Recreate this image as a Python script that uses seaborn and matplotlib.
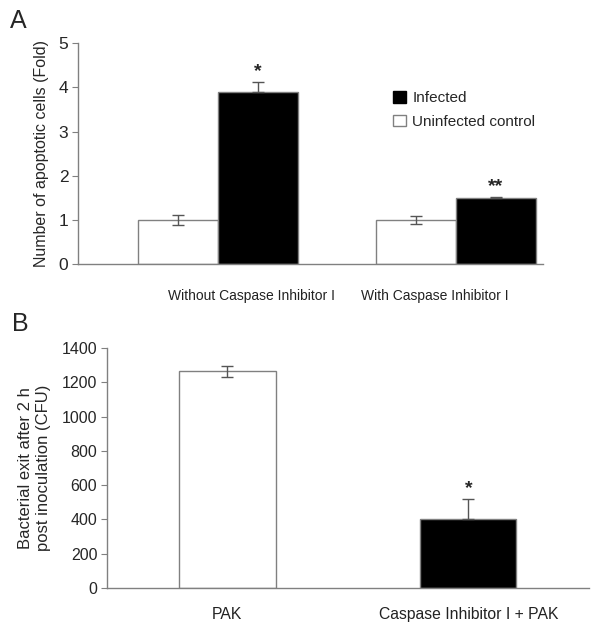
import numpy as np
import pandas as pd
import matplotlib
matplotlib.use("Agg")
import matplotlib.pyplot as plt
import seaborn as sns
from matplotlib.patches import Patch

sns.set_style("white")
plt.rcParams['font.family'] = ['Liberation Sans', 'DejaVu Sans']

# Panel A data
conditions_a = ["Without Caspase Inhibitor I", "With Caspase Inhibitor I"]
groups_a = ["Uninfected control", "Infected"]
uninfected_vals = [1.0, 1.0]
uninfected_err = [0.12, 0.08]
infected_vals = [3.9, 1.49]
infected_err = [0.23, 0.03]
stars_a = ["*", "**"]

# Panel B data
categories_b = ["PAK", "Caspase Inhibitor I + PAK"]
values_b = [1265, 400]
errors_b = [32, 118]
stars_b = ["", "*"]

grey = "#808080"
colors = {"Uninfected control": "white", "Infected": "black"}

df_a = pd.DataFrame({
    "condition": conditions_a * 2,
    "group": [groups_a[0]] * 2 + [groups_a[1]] * 2,
    "value": uninfected_vals + infected_vals,
    "err": uninfected_err + infected_err,
})
df_b = pd.DataFrame({"cat": categories_b, "value": values_b, "err": errors_b})

fig = plt.figure(figsize=(6.02, 6.26), dpi=100)
ax_a = fig.add_axes([0.1296, 0.578, 0.7724, 0.353])
ax_b = fig.add_axes([0.1777, 0.0607, 0.8003, 0.3833])

# ---- Panel A
sns.barplot(data=df_a, x="condition", y="value", hue="group", order=conditions_a,
            hue_order=groups_a, palette=colors, width=0.67, errorbar=None,
            edgecolor=grey, linewidth=1, ax=ax_a, legend=False)
bars = ax_a.patches
for i, (cond, grp) in enumerate([(c, g) for g in groups_a for c in conditions_a]):
    row = df_a[(df_a.condition == cond) & (df_a.group == grp)].iloc[0]
    p = bars[i]
    xc = p.get_x() + p.get_width() / 2
    if grp == "Infected":
        yerr = [[0], [row.err]]
    else:
        yerr = row.err
    ax_a.errorbar(xc, row.value, yerr=yerr, fmt="none", ecolor="#555555",
                  elinewidth=1, capsize=4, capthick=1)
    if grp == "Infected":
        ax_a.text(xc, row.value + row.err + 0.04, stars_a[conditions_a.index(cond)],
                  ha="center", va="bottom", fontsize=14, fontweight="bold")

ax_a.set_xlim(-0.588, 1.366)
ax_a.set_ylim(0, 5)
ax_a.set_yticks(range(6))
ax_a.set_xticks([0.139, 0.912])
ax_a.set_xticklabels(conditions_a, fontsize=10, color="#222222")
ax_a.tick_params(axis="x", length=0, pad=18)
ax_a.tick_params(axis="y", labelsize=12.5)
ax_a.set_xlabel("")
ax_a.set_ylabel("Number of apoptotic cells (Fold)", fontsize=11.5, labelpad=7)

handles = [Patch(facecolor="black", edgecolor="black"),
           Patch(facecolor="white", edgecolor=grey)]
ax_a.legend(handles, ["Infected", "Uninfected control"], loc="upper left",
            bbox_to_anchor=(0.647, 0.845), frameon=False, fontsize=11,
            handlelength=0.9, handleheight=0.8, handletextpad=0.4, labelspacing=0.6)

# ---- Panel B
sns.barplot(data=df_b, x="cat", y="value", hue="cat", order=categories_b,
            palette={categories_b[0]: "white", categories_b[1]: "black"},
            width=0.4, errorbar=None, edgecolor=grey, linewidth=1, ax=ax_b, legend=False)
for i, p in enumerate(ax_b.patches):
    xc = p.get_x() + p.get_width() / 2
    yerr = [[0], [errors_b[i]]] if i == 1 else errors_b[i]
    ax_b.errorbar(xc, values_b[i], yerr=yerr, fmt="none", ecolor="#555555",
                  elinewidth=1, capsize=4, capthick=1)
    if stars_b[i]:
        ax_b.text(xc, values_b[i] + errors_b[i] + 15, stars_b[i],
                  ha="center", va="bottom", fontsize=14, fontweight="bold")

ax_b.set_xlim(-0.5, 1.5)
ax_b.set_ylim(0, 1400)
ax_b.set_yticks(range(0, 1401, 200))
ax_b.set_xticks([0, 1])
ax_b.set_xticklabels(categories_b, fontsize=11.3, color="#222222")
ax_b.set_xticks([0.5, 1.5], minor=True)
ax_b.tick_params(axis="x", which="major", length=0, pad=14)
ax_b.tick_params(axis="x", which="minor", length=3, color=grey, direction="out")
ax_b.tick_params(axis="y", labelsize=11.5)
ax_b.set_xlabel("")
ax_b.set_ylabel("Bacterial exit after 2 h\npost inoculation (CFU)", fontsize=12, labelpad=8)

for ax in (ax_a, ax_b):
    sns.despine(ax=ax)
    for s in ("left", "bottom"):
        ax.spines[s].set_color(grey)
        ax.spines[s].set_linewidth(1)
    ax.tick_params(axis="y", left=True, length=4, color=grey, pad=3)

fig.text(0.017, 0.985, "A", fontsize=18, va="top")
fig.text(0.02, 0.502, "B", fontsize=18, va="top")

fig.savefig("out.png", dpi=100, facecolor="white")
